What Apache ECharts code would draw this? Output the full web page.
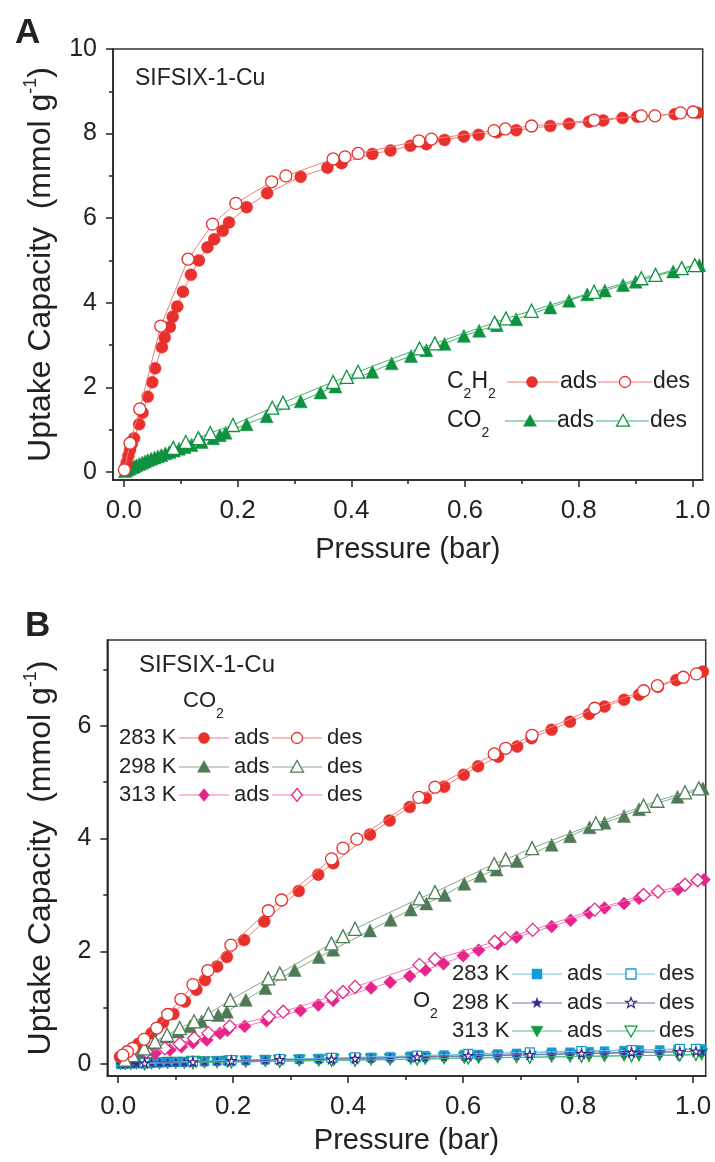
<!DOCTYPE html>
<html><head><meta charset="utf-8">
<script src="https://cdn.jsdelivr.net/npm/echarts@6/dist/echarts.min.js"></script>
<style>html,body{margin:0;padding:0;background:#fff}#c{width:715px;height:1162px}</style>
</head><body><div id="c"></div>
<script>
// ---------- Tick labels ----------
const xTicksMajor = [0, 0.2, 0.4, 0.6, 0.8, 1.0];
const xTicksMinor = [0.1, 0.3, 0.5, 0.7, 0.9];
const yTicksA = [0, 2, 4, 6, 8, 10];
const yMinorA = [1, 3, 5, 7, 9];
const yTicksB = [0, 2, 4, 6];
const yMinorB = [1, 3, 5, 7];

// ---------- Panel A: [pressure (bar), uptake (mmol/g)] ----------
const c2h2Ads = [[0.002,0.08],[0.005,0.22],[0.008,0.38],[0.011,0.52],[0.014,0.66],[0.018,0.80],[0.027,1.13],[0.033,1.40],[0.042,1.78],[0.050,2.12],[0.055,2.45],[0.067,2.95],[0.072,3.18],[0.081,3.43],[0.086,3.67],[0.094,3.91],[0.104,4.26],[0.118,4.66],[0.132,5.00],[0.147,5.31],[0.159,5.50],[0.174,5.70],[0.185,5.90],[0.216,6.26],[0.252,6.59],[0.311,6.98],[0.358,7.19],[0.383,7.30],[0.437,7.52],[0.469,7.60],[0.504,7.71],[0.532,7.75],[0.564,7.85],[0.598,7.93],[0.624,7.97],[0.656,8.03],[0.690,8.08],[0.750,8.18],[0.783,8.23],[0.818,8.28],[0.843,8.31],[0.877,8.37],[0.903,8.40],[0.969,8.46],[1.009,8.49]];
const c2h2Des = [[1.001,8.51],[0.979,8.49],[0.934,8.42],[0.910,8.42],[0.827,8.32],[0.717,8.18],[0.671,8.11],[0.651,8.07],[0.541,7.87],[0.519,7.83],[0.412,7.53],[0.389,7.45],[0.368,7.40],[0.285,7.00],[0.260,6.86],[0.197,6.35],[0.156,5.86],[0.113,5.03],[0.065,3.45],[0.028,1.49],[0.011,0.68],[0.001,0.05]];
const co2AdsA = [[0.002,0.02],[0.006,0.05],[0.010,0.08],[0.014,0.11],[0.018,0.13],[0.022,0.16],[0.027,0.19],[0.032,0.22],[0.037,0.25],[0.042,0.28],[0.048,0.31],[0.054,0.34],[0.060,0.37],[0.066,0.40],[0.073,0.44],[0.080,0.47],[0.088,0.51],[0.097,0.55],[0.107,0.59],[0.119,0.64],[0.137,0.71],[0.157,0.80],[0.169,0.87],[0.179,0.93],[0.216,1.13],[0.251,1.32],[0.311,1.67],[0.346,1.88],[0.372,2.02],[0.437,2.37],[0.471,2.57],[0.505,2.74],[0.532,2.88],[0.564,3.03],[0.598,3.22],[0.625,3.34],[0.656,3.47],[0.690,3.61],[0.750,3.89],[0.783,4.05],[0.815,4.20],[0.846,4.29],[0.878,4.42],[0.900,4.50],[0.966,4.74],[1.012,4.89]];
const co2DesA = [[1.004,4.89],[0.981,4.82],[0.935,4.66],[0.910,4.58],[0.827,4.26],[0.717,3.81],[0.672,3.63],[0.652,3.53],[0.547,3.04],[0.520,2.92],[0.412,2.37],[0.392,2.25],[0.368,2.13],[0.280,1.64],[0.261,1.52],[0.192,1.11],[0.152,0.92],[0.131,0.80],[0.109,0.71],[0.087,0.57]];

// ---------- Panel B: CO2 at three temperatures ----------
const co2_283Ads = [[0.003,0.13],[0.015,0.22],[0.035,0.36],[0.058,0.55],[0.078,0.74],[0.096,0.89],[0.116,1.11],[0.136,1.32],[0.151,1.49],[0.172,1.73],[0.189,1.90],[0.219,2.20],[0.254,2.53],[0.314,3.07],[0.348,3.36],[0.374,3.56],[0.438,4.07],[0.472,4.32],[0.507,4.56],[0.535,4.72],[0.567,4.92],[0.601,5.13],[0.626,5.28],[0.661,5.45],[0.694,5.63],[0.719,5.78],[0.754,5.93],[0.786,6.07],[0.819,6.21],[0.846,6.34],[0.880,6.46],[0.906,6.55],[0.939,6.69],[0.971,6.81],[1.017,6.96]];
const co2_283Des = [[1.006,6.92],[0.983,6.86],[0.938,6.71],[0.914,6.62],[0.829,6.31],[0.720,5.83],[0.674,5.60],[0.654,5.50],[0.551,4.91],[0.523,4.73],[0.415,3.99],[0.391,3.83],[0.371,3.64],[0.284,2.91],[0.261,2.72],[0.196,2.11],[0.156,1.66],[0.130,1.41],[0.109,1.15],[0.086,0.88],[0.067,0.64],[0.045,0.44],[0.025,0.28],[0.016,0.22],[0.008,0.16]];
const co2_298Ads = [[0.017,0.16],[0.041,0.25],[0.064,0.37],[0.084,0.49],[0.104,0.58],[0.125,0.67],[0.145,0.76],[0.174,0.87],[0.189,0.93],[0.222,1.14],[0.256,1.35],[0.307,1.67],[0.349,1.90],[0.374,2.03],[0.438,2.37],[0.474,2.56],[0.509,2.74],[0.536,2.85],[0.568,3.00],[0.602,3.20],[0.630,3.34],[0.658,3.45],[0.694,3.60],[0.754,3.89],[0.786,4.04],[0.820,4.20],[0.846,4.28],[0.880,4.40],[0.906,4.52],[0.973,4.74],[1.017,4.89]];
const co2_298Des = [[1.010,4.89],[0.986,4.82],[0.938,4.67],[0.914,4.58],[0.831,4.27],[0.720,3.83],[0.674,3.63],[0.654,3.55],[0.551,3.05],[0.524,2.94],[0.412,2.40],[0.391,2.27],[0.371,2.14],[0.281,1.61],[0.261,1.52],[0.195,1.14],[0.157,0.89],[0.132,0.76],[0.107,0.64],[0.085,0.52],[0.064,0.40],[0.045,0.28],[0.025,0.16],[0.012,0.08]];
const co2_313Ads = [[0.035,0.16],[0.064,0.19],[0.090,0.25],[0.110,0.31],[0.130,0.38],[0.154,0.43],[0.177,0.55],[0.190,0.60],[0.220,0.67],[0.258,0.77],[0.317,0.95],[0.348,1.05],[0.374,1.13],[0.440,1.35],[0.473,1.45],[0.507,1.56],[0.534,1.67],[0.566,1.78],[0.600,1.92],[0.627,2.02],[0.660,2.13],[0.693,2.25],[0.754,2.44],[0.787,2.55],[0.819,2.68],[0.846,2.77],[0.880,2.85],[0.906,2.94],[0.974,3.10],[1.019,3.27]];
const co2_313Des = [[1.008,3.26],[0.986,3.18],[0.939,3.06],[0.914,3.00],[0.829,2.74],[0.721,2.38],[0.673,2.23],[0.655,2.17],[0.551,1.86],[0.524,1.76],[0.412,1.37],[0.391,1.28],[0.371,1.20],[0.287,0.93],[0.262,0.84],[0.194,0.67],[0.157,0.55],[0.132,0.46],[0.107,0.36],[0.081,0.28],[0.049,0.22],[0.020,0.14]];

// ---------- Panel B: O2 at three temperatures ----------
const o2PressAds = [0.004,0.012,0.022,0.032,0.045,0.058,0.072,0.086,0.100,0.115,0.130,0.150,0.172,0.190,0.222,0.256,0.315,0.349,0.374,0.440,0.473,0.509,0.534,0.567,0.602,0.627,0.660,0.693,0.754,0.786,0.819,0.846,0.880,0.906,0.942,0.974,1.015];
const o2_283Ads = [0.00,0.01,0.01,0.01,0.02,0.02,0.03,0.03,0.04,0.04,0.05,0.05,0.06,0.06,0.07,0.08,0.09,0.10,0.11,0.12,0.13,0.14,0.15,0.16,0.17,0.17,0.18,0.19,0.21,0.21,0.22,0.23,0.24,0.25,0.25,0.26,0.27];
const o2_298Ads = [0.00,0.00,0.01,0.01,0.01,0.02,0.02,0.03,0.03,0.03,0.04,0.04,0.05,0.05,0.06,0.07,0.08,0.08,0.09,0.10,0.11,0.12,0.12,0.13,0.14,0.15,0.15,0.16,0.17,0.18,0.19,0.19,0.20,0.21,0.21,0.22,0.23];
const o2_313Ads = [0.00,0.00,0.00,0.01,0.01,0.01,0.01,0.02,0.02,0.02,0.03,0.03,0.03,0.04,0.04,0.05,0.06,0.06,0.07,0.08,0.08,0.09,0.09,0.10,0.11,0.11,0.12,0.12,0.13,0.13,0.14,0.14,0.15,0.15,0.16,0.16,0.17];
const o2PressDes = [1.005,0.977,0.893,0.806,0.716,0.609,0.520,0.412,0.371,0.281,0.197,0.130,0.046];
const o2_283Des = [0.27,0.27,0.25,0.23,0.21,0.18,0.15,0.12,0.11,0.09,0.07,0.05,0.02];
const o2_298Des = [0.23,0.22,0.21,0.19,0.17,0.15,0.13,0.10,0.09,0.08,0.06,0.04,0.02];
const o2_313Des = [0.17,0.16,0.15,0.14,0.12,0.11,0.09,0.07,0.07,0.05,0.04,0.03,0.01];

// ---------- styling ----------
const FONT = "'Liberation Sans', Arial, Helvetica, sans-serif";
const INK = '#222';
const STAR = 'path://M50,0 L61,35 L98,35 L68,57 L79,91 L50,70 L21,91 L32,57 L2,35 L39,35 Z';
const C = {
  red: ['#e8302c', '#f17d76'],
  grnA: ['#0e9240', '#45b36c'],
  sage: ['#4e7b56', '#86a98b'],
  pink: ['#e6258a', '#f27bb9'],
  blue: ['#159bd8', '#6cc6ee'],
  navy: ['#3a2a86', '#7d6fb3'],
  grn: ['#0f9a3f', '#4cbf75']
};

const zip = (p, u) => p.map((x, i) => [x, u[i]]);

function mk(data, panel, col, symbol, filled, size, rotate) {
  return {
    type: 'line', data, xAxisIndex: panel * 2, yAxisIndex: panel * 2,
    symbol, symbolSize: size, symbolRotate: rotate || 0,
    showSymbol: true, showAllSymbol: true, clip: true,
    lineStyle: { color: col[1], width: 1 },
    itemStyle: filled ? { color: col[0], borderColor: col[0], borderWidth: 0.5 }
                      : { color: '#fff', borderColor: col[0], borderWidth: 1.3 },
    emphasis: { disabled: true }, z: filled ? 3 : 4
  };
}

const series = [
  mk(co2AdsA, 0, C.grnA, 'triangle', true, 13),
  mk(co2DesA, 0, C.grnA, 'triangle', false, 13),
  mk(c2h2Ads, 0, C.red, 'circle', true, 12),
  mk(c2h2Des, 0, C.red, 'circle', false, 12),

  mk(zip(o2PressAds, o2_313Ads), 1, C.grn, 'triangle', true, 12, 180),
  mk(zip(o2PressDes, o2_313Des), 1, C.grn, 'triangle', false, 12, 180),
  mk(zip(o2PressAds, o2_283Ads), 1, C.blue, 'rect', true, 9),
  mk(zip(o2PressDes, o2_283Des), 1, C.blue, 'rect', false, 9),
  mk(zip(o2PressAds, o2_298Ads), 1, C.navy, STAR, true, 9),
  mk(zip(o2PressDes, o2_298Des), 1, C.navy, STAR, false, 9),

  mk(co2_313Ads, 1, C.pink, 'diamond', true, 13),
  mk(co2_313Des, 1, C.pink, 'diamond', false, 13),
  mk(co2_298Ads, 1, C.sage, 'triangle', true, 13),
  mk(co2_298Des, 1, C.sage, 'triangle', false, 13),
  mk(co2_283Ads, 1, C.red, 'circle', true, 12),
  mk(co2_283Des, 1, C.red, 'circle', false, 12)
];

function xMajor(gi, min, max, nameGap) {
  return {
    type: 'value', gridIndex: gi, position: 'bottom', min, max,
    axisLine: { show: true, onZero: false, lineStyle: { color: INK, width: 1.5 } },
    axisTick: { show: true, inside: false, length: 7, customValues: xTicksMajor, lineStyle: { color: INK, width: 1.5 } },
    axisLabel: { show: true, customValues: xTicksMajor, formatter: v => Number(v).toFixed(1), fontSize: 26, color: INK, fontFamily: FONT, margin: 18 },
    splitLine: { show: false }, minorTick: { show: false },
    name: 'Pressure (bar)', nameLocation: 'middle', nameGap,
    nameTextStyle: { fontSize: 29, color: INK, fontFamily: FONT }
  };
}
function xMinor(gi, min, max) {
  return {
    type: 'value', gridIndex: gi, position: 'bottom', min, max,
    axisLine: { show: false, onZero: false },
    axisTick: { show: true, inside: false, length: 4, customValues: xTicksMinor, lineStyle: { color: INK, width: 1.5 } },
    axisLabel: { show: false }, splitLine: { show: false }
  };
}
const yName = '{m|Uptake Capacity  (mmol g}{s|-1}{m|)}';
function yMajor(gi, min, max, ticks, nameGap) {
  return {
    type: 'value', gridIndex: gi, position: 'left', min, max,
    axisLine: { show: true, onZero: false, lineStyle: { color: INK, width: 1.5 } },
    axisTick: { show: true, inside: false, length: 7, customValues: ticks, lineStyle: { color: INK, width: 1.5 } },
    axisLabel: { show: true, customValues: ticks, fontSize: 25, color: INK, fontFamily: FONT, margin: 16 },
    splitLine: { show: false },
    name: yName, nameLocation: 'middle', nameRotate: 90, nameGap,
    nameTextStyle: {
      color: INK, fontFamily: FONT,
      rich: {
        m: { fontSize: 32, fontFamily: FONT, color: INK, lineHeight: 35, verticalAlign: 'bottom' },
        s: { fontSize: 18, fontFamily: FONT, color: INK, lineHeight: 35, verticalAlign: 'top', padding: [0, 0, 15, 0] }
      }
    }
  };
}
function yMinor(gi, min, max, ticks) {
  return {
    type: 'value', gridIndex: gi, position: 'left', min, max,
    axisLine: { show: false, onZero: false },
    axisTick: { show: true, inside: false, length: 4, customValues: ticks, lineStyle: { color: INK, width: 1.5 } },
    axisLabel: { show: false }, splitLine: { show: false }
  };
}

// ---------- hand-drawn legends (graphic) ----------
const G = [];
const richSub = (fs) => ({
  m: { fontSize: fs, fontFamily: FONT, fill: INK, color: INK, lineHeight: fs + 2, verticalAlign: 'top' },
  b: { fontSize: Math.round(fs * 0.62), fontFamily: FONT, color: INK, lineHeight: fs + 2, verticalAlign: 'top', padding: [Math.round(fs * 0.75), 0, 0, 0] }
});
function text(x, y, str, fs, opts) {
  opts = opts || {};
  G.push({
    type: 'text', x, y, z: 100,
    style: {
      text: str, fontSize: fs, fontFamily: FONT, fill: INK,
      fontWeight: opts.bold ? 'bold' : 'normal',
      align: 'left', verticalAlign: opts.top ? 'top' : 'middle',
      rich: opts.rich || undefined
    }
  });
}
function seg(x1, x2, y, col) {
  G.push({ type: 'line', z: 100, shape: { x1, y1: y, x2, y2: y }, style: { stroke: col, lineWidth: 1.2 } });
}
function mark(kind, cx, cy, col, filled, s) {
  const style = filled ? { fill: col, stroke: col, lineWidth: 0.5 } : { fill: '#fff', stroke: col, lineWidth: 1.3 };
  const h = s / 2;
  let el;
  if (kind === 'circle') el = { type: 'circle', shape: { cx, cy, r: h } };
  else if (kind === 'rect') el = { type: 'rect', shape: { x: cx - h, y: cy - h, width: s, height: s } };
  else if (kind === 'tri') el = { type: 'polygon', shape: { points: [[cx, cy - h], [cx + h, cy + h * 0.8], [cx - h, cy + h * 0.8]] } };
  else if (kind === 'dtri') el = { type: 'polygon', shape: { points: [[cx, cy + h], [cx + h, cy - h * 0.8], [cx - h, cy - h * 0.8]] } };
  else if (kind === 'dia') el = { type: 'polygon', shape: { points: [[cx, cy - h], [cx + h * 0.8, cy], [cx, cy + h], [cx - h * 0.8, cy]] } };
  else if (kind === 'star') {
    const pts = [];
    for (let i = 0; i < 10; i++) {
      const r = i % 2 === 0 ? h : h * 0.42;
      const a = -Math.PI / 2 + i * Math.PI / 5;
      pts.push([cx + r * Math.cos(a), cy + r * Math.sin(a)]);
    }
    el = { type: 'polygon', shape: { points: pts } };
  }
  el.style = style; el.z = 101;
  G.push(el);
}
function row(y, fs, col, kind, s, L) {
  seg(L.l1[0], L.l1[1], y, col[1]);
  mark(kind, L.m1, y, col[0], true, s);
  text(L.ads, y, 'ads', fs);
  seg(L.l2[0], L.l2[1], y, col[1]);
  mark(kind, L.m2, y, col[0], false, s);
  text(L.des, y, 'des', fs);
}

// Panel A
text(15, 33, 'A', 35, { bold: true });
text(135, 79, 'SIFSIX-1-Cu', 23);
text(447, 370, '{m|C}{b|2}{m|H}{b|2}', 23, { top: true, rich: richSub(23) });
row(382, 23, C.red, 'circle', 11, { l1: [507, 559], m1: 532, ads: 560, l2: [598, 652], m2: 625, des: 653 });
text(447, 409, '{m|CO}{b|2}', 23, { top: true, rich: richSub(23) });
row(421, 23, C.grnA, 'tri', 13, { l1: [505, 557], m1: 530, ads: 557, l2: [596, 649], m2: 623, des: 650 });

// Panel B
text(25, 626, 'B', 35, { bold: true });
text(139, 665, 'SIFSIX-1-Cu', 24);
text(183, 690, '{m|CO}{b|2}', 22, { top: true, rich: richSub(22) });
const Lb = { l1: [179, 229], m1: 204, ads: 234, l2: [272, 322], m2: 297, des: 327 };
text(119, 738, '283 K', 22); row(738, 22, C.red, 'circle', 11, Lb);
text(119, 767, '298 K', 22); row(767, 22, C.sage, 'tri', 13, Lb);
text(119, 795, '313 K', 22); row(795, 22, C.pink, 'dia', 13, Lb);
text(413, 990, '{m|O}{b|2}', 22, { top: true, rich: richSub(22) });
const Lo = { l1: [512, 562], m1: 537, ads: 567, l2: [606, 655], m2: 631, des: 659 };
text(452, 974, '283 K', 22); row(974, 22, C.blue, 'rect', 10, Lo);
text(452, 1003, '298 K', 22); row(1003, 22, C.navy, 'star', 11, Lo);
text(452, 1031, '313 K', 22); row(1031, 22, C.grn, 'dtri', 12, Lo);

const option = {
  animation: false,
  backgroundColor: '#fff',
  grid: [
    { left: 113, top: 49, right: 12.3, bottom: 682, show: true, borderColor: '#333', borderWidth: 1.5, backgroundColor: 'transparent', containLabel: false, outerBoundsMode: 'none' },
    { left: 107.3, top: 640, right: 9.3, bottom: 86, show: true, borderColor: '#333', borderWidth: 1.5, backgroundColor: 'transparent', containLabel: false, outerBoundsMode: 'none' }
  ],
  xAxis: [xMajor(0, -0.019, 1.018, 55), xMinor(0, -0.019, 1.018), xMajor(1, -0.019, 1.022, 50), xMinor(1, -0.019, 1.022)],
  yAxis: [yMajor(0, -0.19, 10, yTicksA, 56), yMinor(0, -0.19, 10, yMinorA), yMajor(1, -0.21, 7.52, yTicksB, 50), yMinor(1, -0.21, 7.52, yMinorB)],
  series,
  graphic: G
};
const chart = echarts.init(document.getElementById('c'), null, { renderer: 'canvas' });
chart.setOption(option);
</script></body></html>
